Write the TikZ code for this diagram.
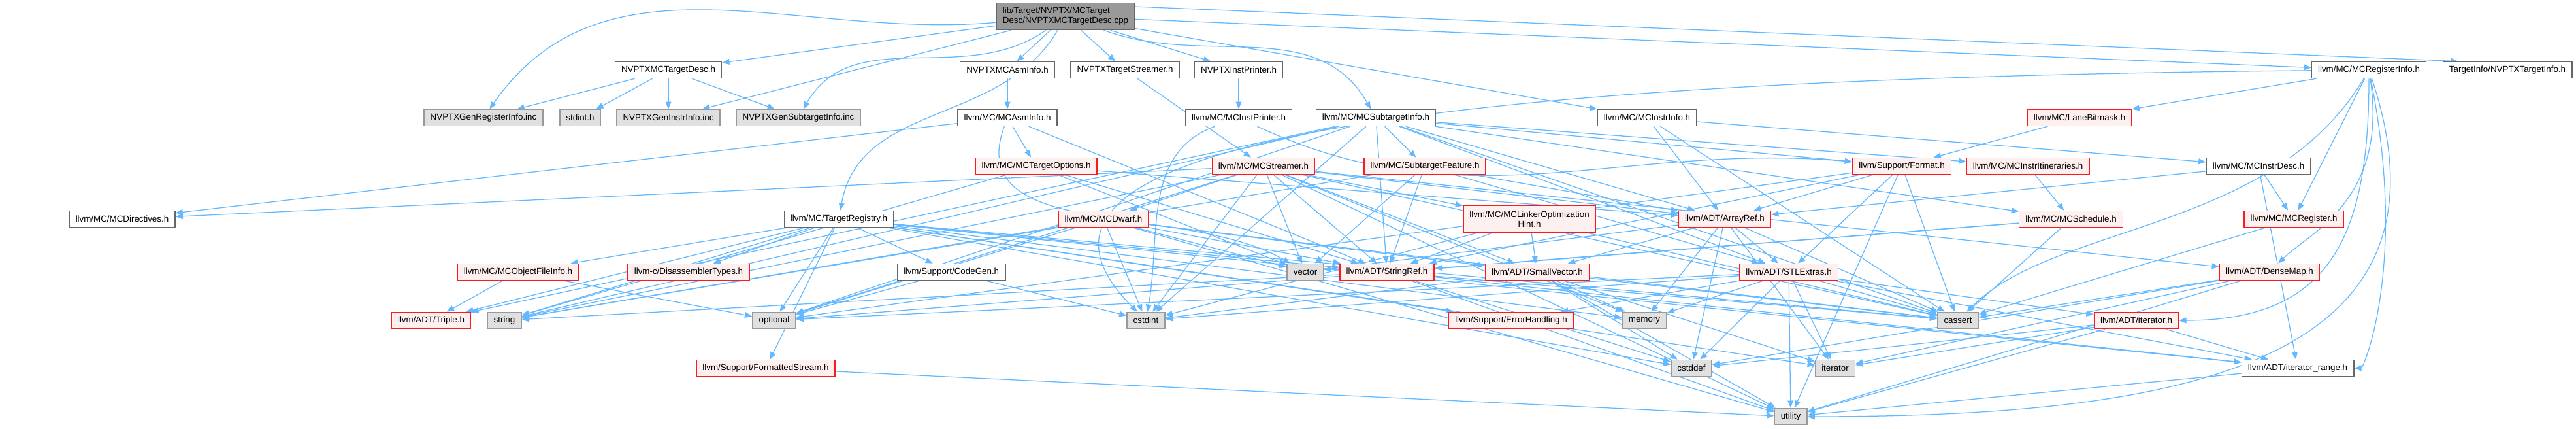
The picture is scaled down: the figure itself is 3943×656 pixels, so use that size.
\documentclass[tikz,border=0pt]{standalone}
\usepackage{fontspec}
\setmainfont{Liberation Sans}
\usetikzlibrary{arrows.meta}
\definecolor{dxEdge}{HTML}{63B8FF}
\definecolor{dxRed}{HTML}{FF1A1A}
\definecolor{dxRedFill}{HTML}{FFF0F0}
\definecolor{dxGray}{HTML}{999999}
\definecolor{dxGrayFill}{HTML}{E0E0E0}
\definecolor{dxDark}{HTML}{666666}
\pgfdeclarelayer{edges}
\pgfsetlayers{edges,main}

\begin{document}
\begin{tikzpicture}[
    x=0.025cm, y=-0.025cm,
    box/.style={draw=dxDark, fill=white, line width=1.1pt, minimum height=0.625cm, inner xsep=0.24cm, inner ysep=0pt, font=\fontsize{9.5}{10.7}\selectfont},
    redbox/.style={box, draw=dxRed, fill=dxRedFill},
    graybox/.style={box, draw=dxGray, fill=dxGrayFill},
    rootbox/.style={box, fill=dxGray, align=left, minimum height=1.025cm},
    arrow/.style={-{Triangle[length=0.28cm,width=0.22cm]}, line width=0.9pt, color=dxEdge}
  ]
    \useasboundingbox (0,0) rectangle (3943,656);

    % row 0 and 1
    \node[rootbox] (main) at (1631,25) {lib/Target/NVPTX/MCTarget\\Desc/NVPTXMCTargetDesc.cpp};
    \node[box] (tdh) at (1023,107) {NVPTXMCTargetDesc.h};
    \node[box] (asmh) at (1542,107) {NVPTXMCAsmInfo.h};
    \node[box] (tsh) at (1722,107) {NVPTXTargetStreamer.h};
    \node[box] (iph) at (1896,107) {NVPTXInstPrinter.h};
    \node[box] (reginfo) at (3626,107) {llvm/MC/MCRegisterInfo.h};
    \node[box] (tinfo) at (3838,107) {TargetInfo/NVPTXTargetInfo.h};

    % row 2
    \node[graybox] (genreg) at (740,180) {NVPTXGenRegisterInfo.inc};
    \node[graybox] (stdinth) at (888,180) {stdint.h};
    \node[graybox] (geninstr) at (1023,180) {NVPTXGenInstrInfo.inc};
    \node[graybox] (gensub) at (1222,180) {NVPTXGenSubtargetInfo.inc};
    \node[box] (mcasm) at (1542,180) {llvm/MC/MCAsmInfo.h};
    \node[box] (mcip) at (1896,180) {llvm/MC/MCInstPrinter.h};
    \node[box] (subinfo) at (2106,180) {llvm/MC/MCSubtargetInfo.h};
    \node[box] (instrinfo) at (2521,180) {llvm/MC/MCInstrInfo.h};
    \node[redbox] (lanebm) at (3183,180) {llvm/MC/LaneBitmask.h};

    % row 3
    \node[redbox] (topts) at (1586,254) {llvm/MC/MCTargetOptions.h};
    \node[redbox] (streamer) at (1934,254) {llvm/MC/MCStreamer.h};
    \node[redbox] (subfeat) at (2181,254) {llvm/MC/SubtargetFeature.h};
    \node[redbox] (format) at (2911,254) {llvm/Support/Format.h};
    \node[redbox] (itin) at (3104,254) {llvm/MC/MCInstrItineraries.h};
    \node[box] (instrdesc) at (3457,254) {llvm/MC/MCInstrDesc.h};

    % row 4
    \node[box] (directives) at (187,335) {llvm/MC/MCDirectives.h};
    \node[box] (targetreg) at (1284,335) {llvm/MC/TargetRegistry.h};
    \node[redbox] (dwarf) at (1689,335) {llvm/MC/MCDwarf.h};
    \node[redbox, align=center, minimum height=1.025cm] (loh) at (2341,335) {llvm/MC/MCLinkerOptimization\\Hint.h};
    \node[redbox] (arrayref) at (2640,335) {llvm/ADT/ArrayRef.h};
    \node[redbox] (schedule) at (3170,335) {llvm/MC/MCSchedule.h};
    \node[redbox] (mcreg) at (3511,335) {llvm/MC/MCRegister.h};

    % row 5
    \node[redbox] (objfile) at (793,416) {llvm/MC/MCObjectFileInfo.h};
    \node[redbox] (disasm) at (1054,416) {llvm-c/DisassemblerTypes.h};
    \node[box] (codegen) at (1456,416) {llvm/Support/CodeGen.h};
    \node[graybox] (vector) at (1998,416) {vector};
    \node[redbox] (stringref) at (2123,416) {llvm/ADT/StringRef.h};
    \node[redbox] (smallvec) at (2353,416) {llvm/ADT/SmallVector.h};
    \node[redbox] (stlextras) at (2738,416) {llvm/ADT/STLExtras.h};
    \node[redbox] (densemap) at (3474,416) {llvm/ADT/DenseMap.h};

    % row 6
    \node[redbox] (triple) at (660,490) {llvm/ADT/Triple.h};
    \node[graybox] (string) at (772,490) {string};
    \node[graybox] (optional) at (1185,490) {optional};
    \node[graybox] (cstdint) at (1754,490) {cstdint};
    \node[redbox] (errh) at (2313,490) {llvm/Support/ErrorHandling.h};
    \node[graybox] (memory) at (2517,490) {memory};
    \node[graybox] (cassert) at (2997,490) {cassert};
    \node[redbox] (iterh) at (3270,490) {llvm/ADT/iterator.h};

    % row 7 and 8
    \node[redbox] (fstream) at (1172,563) {llvm/Support/FormattedStream.h};
    \node[graybox] (cstddef) at (2589,563) {cstddef};
    \node[graybox] (iterator) at (2809,563) {iterator};
    \node[box] (itrange) at (3517,563) {llvm/ADT/iterator\_range.h};
    \node[graybox] (utility) at (2741,637) {utility};

    \begin{pgfonlayer}{edges}
    % root file
    \draw[arrow] (main) -- (tdh);
    \draw[arrow] (main) to[out=185,in=55] (genreg);
    \draw[arrow] (main) -- (geninstr);
    \draw[arrow] (main) to[out=215,in=60] (gensub);
    \draw[arrow] (main) to[out=240,in=80] (targetreg);
    \draw[arrow] (main) -- (asmh);
    \draw[arrow] (main) -- (tsh);
    \draw[arrow] (main) -- (iph);
    \draw[arrow] (main) to[out=-20,in=120] (subinfo);
    \draw[arrow] (main) -- (instrinfo);
    \draw[arrow] (main) -- (reginfo);
    \draw[arrow] (main.8) -- (tinfo.170);

    % NVPTX headers
    \draw[arrow] (tdh) -- (genreg);
    \draw[arrow] (tdh) -- (stdinth);
    \draw[arrow] (tdh) -- (geninstr);
    \draw[arrow] (tdh) -- (gensub);
    \draw[arrow] (asmh) -- (mcasm);
    \draw[arrow] (tsh) -- (streamer);
    \draw[arrow] (iph) -- (mcip);

    % MC headers
    \draw[arrow] (mcasm) -- (directives);
    \draw[arrow] (mcasm) -- (topts);
    \draw[arrow] (mcasm) -- (stringref);
    \draw[arrow] (mcasm) to[out=-110,in=150] (vector);
    \draw[arrow] (mcip) to[out=-25,in=175] (format);
    \draw[arrow] (mcip) to[out=200,in=80] (cstdint);
    \draw[arrow] (topts) -- (arrayref);
    \draw[arrow] (topts) -- (stringref);
    \draw[arrow] (topts) -- (string);
    \draw[arrow] (topts) -- (vector);
    \draw[arrow] (streamer) -- (arrayref);
    \draw[arrow] (streamer) -- (densemap);
    \draw[arrow] (streamer) -- (smallvec);
    \draw[arrow] (streamer) -- (stringref);
    \draw[arrow] (streamer) -- (directives);
    \draw[arrow] (streamer) -- (dwarf);
    \draw[arrow] (streamer) -- (loh);
    \draw[arrow] (streamer) -- (cassert);
    \draw[arrow] (streamer) -- (cstdint);
    \draw[arrow] (streamer) -- (memory);
    \draw[arrow] (streamer) -- (optional);
    \draw[arrow] (streamer) -- (string);
    \draw[arrow] (streamer) -- (utility);
    \draw[arrow] (streamer) -- (vector);
    \draw[arrow] (subinfo) -- (arrayref);
    \draw[arrow] (subinfo) -- (stlextras);
    \draw[arrow] (subinfo) -- (stringref);
    \draw[arrow] (subinfo) -- (triple);
    \draw[arrow] (subinfo) -- (itin);
    \draw[arrow] (subinfo) -- (schedule);
    \draw[arrow] (subinfo) -- (subfeat);
    \draw[arrow] (subinfo) -- (format);
    \draw[arrow] (subinfo) -- (cassert);
    \draw[arrow] (subinfo) -- (cstdint);
    \draw[arrow] (subinfo) -- (optional);
    \draw[arrow] (subinfo) -- (string);
    \draw[arrow] (instrinfo) -- (arrayref);
    \draw[arrow] (instrinfo) -- (instrdesc);
    \draw[arrow] (instrinfo) -- (cassert);
    \draw[arrow] (reginfo) .. controls +(30,200) and +(60,-60) .. (densemap);
    \draw[arrow] (reginfo) .. controls +(0,250) and +(300,0) .. (iterh);
    \draw[arrow] (reginfo) .. controls +(60,300) and +(100,0) .. (itrange);
    \draw[arrow] (reginfo) -- (lanebm);
    \draw[arrow] (reginfo) -- (mcreg);
    \draw[arrow] (reginfo) .. controls +(-150,250) and +(150,-150) .. (cassert);
    \draw[arrow] (reginfo) .. controls +(-1600,15) and +(-250,-250) .. (cstdint);
    \draw[arrow] (reginfo) .. controls +(150,450) and +(600,0) .. (utility);
    \draw[arrow] (dwarf) -- (smallvec);
    \draw[arrow] (dwarf) -- (stringref);
    \draw[arrow] (dwarf) -- (cassert);
    \draw[arrow] (dwarf) -- (cstdint);
    \draw[arrow] (dwarf) -- (optional);
    \draw[arrow] (dwarf) -- (string);
    \draw[arrow] (dwarf) -- (utility);
    \draw[arrow] (dwarf) -- (vector);
    \draw[arrow] (loh) -- (smallvec);
    \draw[arrow] (loh) -- (stringref);
    \draw[arrow] (loh) -- (cassert);
    \draw[arrow] (loh) -- (cstdint);
    \draw[arrow] (schedule) -- (stringref);
    \draw[arrow] (schedule) -- (cassert);
    \draw[arrow] (schedule) -- (optional);
    \draw[arrow] (mcreg) -- (cassert);
    \draw[arrow] (lanebm) -- (format);
    \draw[arrow] (itin) -- (schedule);
    \draw[arrow] (instrdesc) -- (arrayref);
    \draw[arrow] (instrdesc) -- (itrange);
    \draw[arrow] (instrdesc) -- (mcreg);
    \draw[arrow] (subfeat) -- (arrayref);
    \draw[arrow] (subfeat) -- (stlextras);
    \draw[arrow] (subfeat) -- (stringref);
    \draw[arrow] (subfeat) -- (string);
    \draw[arrow] (subfeat) -- (vector);
    \draw[arrow] (format) -- (arrayref);
    \draw[arrow] (format) -- (stlextras);
    \draw[arrow] (format) -- (stringref);
    \draw[arrow] (format) -- (cassert);
    \draw[arrow] (format) -- (optional);
    \draw[arrow] (format) -- (utility);
    \draw[arrow] (targetreg) -- (disasm);
    \draw[arrow] (targetreg) -- (objfile);
    \draw[arrow] (targetreg) -- (codegen);
    \draw[arrow] (targetreg) -- (fstream);
    \draw[arrow] (targetreg) -- (itrange);
    \draw[arrow] (targetreg) -- (stringref);
    \draw[arrow] (targetreg) -- (triple);
    \draw[arrow] (targetreg) -- (errh);
    \draw[arrow] (targetreg) -- (cassert);
    \draw[arrow] (targetreg) -- (cstddef);
    \draw[arrow] (targetreg) -- (iterator);
    \draw[arrow] (targetreg) -- (memory);
    \draw[arrow] (targetreg) -- (optional);
    \draw[arrow] (targetreg) -- (string);
    \draw[arrow] (objfile) -- (triple);
    \draw[arrow] (objfile) -- (optional);
    \draw[arrow] (codegen) -- (cstdint);
    \draw[arrow] (codegen) -- (optional);
    \draw[arrow] (fstream) -- (utility);

    % ADT headers
    \draw[arrow] (arrayref) -- (smallvec);
    \draw[arrow] (arrayref) -- (stlextras);
    \draw[arrow] (arrayref) -- (cassert);
    \draw[arrow] (arrayref) -- (cstddef);
    \draw[arrow] (arrayref) -- (iterator);
    \draw[arrow] (arrayref) -- (memory);
    \draw[arrow] (arrayref) -- (vector);
    \draw[arrow] (stringref) -- (itrange);
    \draw[arrow] (stringref) -- (cassert);
    \draw[arrow] (stringref) -- (cstddef);
    \draw[arrow] (stringref) -- (string);
    \draw[arrow] (stringref) -- (utility);
    \draw[arrow] (smallvec) -- (cassert);
    \draw[arrow] (smallvec) -- (cstddef);
    \draw[arrow] (smallvec) -- (cstdint);
    \draw[arrow] (smallvec) -- (iterator);
    \draw[arrow] (smallvec) -- (memory);
    \draw[arrow] (smallvec) -- (utility);
    \draw[arrow] (stlextras) -- (iterh);
    \draw[arrow] (stlextras) -- (itrange);
    \draw[arrow] (stlextras) -- (errh);
    \draw[arrow] (stlextras) -- (cassert);
    \draw[arrow] (stlextras) -- (cstddef);
    \draw[arrow] (stlextras) -- (cstdint);
    \draw[arrow] (stlextras) -- (iterator);
    \draw[arrow] (stlextras) -- (memory);
    \draw[arrow] (stlextras) -- (optional);
    \draw[arrow] (stlextras) -- (utility);
    \draw[arrow] (densemap) -- (cassert);
    \draw[arrow] (densemap) -- (cstddef);
    \draw[arrow] (densemap) -- (iterator);
    \draw[arrow] (densemap) -- (utility);
    \draw[arrow] (iterh) -- (itrange);
    \draw[arrow] (iterh) -- (cstddef);
    \draw[arrow] (iterh) -- (iterator);
    \draw[arrow] (iterh) -- (utility);
    \draw[arrow] (itrange) -- (utility);
    \end{pgfonlayer}
  \end{tikzpicture}
\end{document}
